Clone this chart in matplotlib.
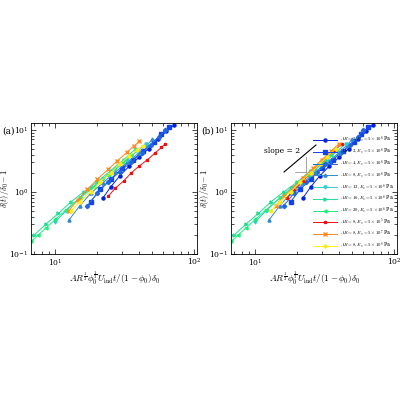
import matplotlib
matplotlib.use("Agg")
import matplotlib.pyplot as plt

plt.rcParams['font.family'] = 'DejaVu Serif'
plt.rcParams['mathtext.fontset'] = 'cm'

labels = ["$AR=1, E_s=5\\times10^6$ Pa", "$AR=2, E_s=5\\times10^6$ Pa", "$AR=4, E_s=5\\times10^6$ Pa",
          "$AR=8, E_s=5\\times10^6$ Pa", "$AR=12, E_s=5\\times10^6$ Pa", "$AR=16, E_s=5\\times10^6$ Pa",
          "$AR=20, E_s=5\\times10^6$ Pa", "$AR=8, E_s=5\\times10^5$ Pa", "$AR=8, E_s=5\\times10^7$ Pa",
          "$AR=8, E_s=5\\times10^8$ Pa"]
colors = ["#0022dd", "#1144ee", "#2266dd", "#3388cc", "#33cccc", "#22dd99", "#22ee77", "#ee1111", "#ff8822", "#ffee11"]
markers = ["o", "s", "D", "^", "v", ">", "<", "*", "x", "P"]

# panel (b) collapsed data
xb = [
    [22, 25, 29, 34, 40, 47, 55, 63, 70],
    [18, 21, 25, 30, 36, 43, 51, 58, 65],
    [16, 19, 23, 28, 34, 41, 48, 55, 60],
    [12.5, 15, 18, 22, 27, 33, 40, 46, 50],
    [10, 12, 15, 18, 22, 27, 33, 39, 45],
    [7, 8.5, 10.5, 13, 16, 20, 25, 31, 38],
    [6.7, 7.5, 8.5, 10, 12, 15, 19, 24, 30, 35],
    [17, 19, 22, 25, 29, 33, 37, 42],
    [14, 16, 19, 22, 26, 30, 35, 40],
    [13, 15, 18, 21, 25, 29, 33, 38],
]
yb = [
    [0.8, 1.2, 1.8, 2.6, 3.6, 5.0, 7.0, 9.5, 12],
    [0.7, 1.1, 1.6, 2.4, 3.3, 4.6, 6.4, 8.6, 11],
    [0.6, 0.95, 1.45, 2.1, 3.0, 4.2, 5.8, 7.8, 10],
    [0.35, 0.6, 0.95, 1.4, 2.1, 3.0, 4.3, 5.8, 7],
    [0.33, 0.5, 0.8, 1.15, 1.6, 2.3, 3.3, 4.6, 6],
    [0.2, 0.3, 0.45, 0.7, 1.0, 1.45, 2.2, 3.3, 5],
    [0.16, 0.2, 0.26, 0.36, 0.52, 0.8, 1.2, 1.9, 3.0, 4],
    [0.8, 1.1, 1.5, 2.0, 2.8, 3.7, 4.6, 6],
    [0.6, 0.85, 1.2, 1.7, 2.4, 3.3, 4.5, 6],
    [0.5, 0.7, 1.0, 1.45, 2.0, 2.8, 3.7, 5],
]
# panel (a) raw scaling
xa = [
    [22, 25, 29, 34, 40, 47, 55, 63, 72],
    [18, 21, 25, 30, 36, 43, 51, 58, 66],
    [17, 20, 24, 29, 35, 42, 49, 56, 62],
    [12.5, 15, 18, 22, 27, 33, 40, 46, 50],
    [10, 12, 15, 18, 22, 27, 33, 39, 45],
    [7, 8.5, 10.5, 13, 16, 20, 25, 31, 38],
    [6.7, 7.5, 8.5, 10, 12, 15, 19, 24, 30, 35],
    [24, 27, 31, 35, 40, 46, 52, 58, 62],
    [12.5, 14.5, 17, 20, 24, 28, 33, 37, 40],
    [13, 15, 18, 21, 25, 29, 34, 39, 43],
]
ya = [
    [0.8, 1.2, 1.8, 2.6, 3.6, 5.0, 7.0, 9.5, 12],
    [0.7, 1.1, 1.6, 2.4, 3.3, 4.6, 6.4, 8.6, 11],
    [0.6, 0.95, 1.45, 2.1, 3.0, 4.2, 5.8, 7.8, 10],
    [0.35, 0.6, 0.95, 1.4, 2.1, 3.0, 4.3, 5.8, 7],
    [0.33, 0.5, 0.8, 1.15, 1.6, 2.3, 3.3, 4.6, 6],
    [0.2, 0.3, 0.45, 0.7, 1.0, 1.45, 2.2, 3.3, 5],
    [0.16, 0.2, 0.26, 0.36, 0.52, 0.8, 1.2, 1.9, 3.0, 4],
    [0.85, 1.15, 1.5, 2.0, 2.6, 3.3, 4.2, 5.2, 6],
    [0.5, 0.75, 1.1, 1.6, 2.3, 3.2, 4.4, 5.6, 6.5],
    [0.5, 0.7, 1.0, 1.45, 2.0, 2.8, 3.8, 4.8, 5.6],
]

fig = plt.figure(figsize=(4, 4), dpi=100)
axa = fig.add_axes([0.078, 0.365, 0.415, 0.328])
axb = fig.add_axes([0.578, 0.365, 0.415, 0.328])
for ax, X, Y, tag in [(axa, xa, ya, "(a)"), (axb, xb, yb, "(b)")]:
    for i in range(len(labels)):
        ax.plot(X[i], Y[i], color=colors[i], marker=markers[i], ms=2.2, lw=0.7, label=labels[i])
    ax.set_xscale('log'); ax.set_yscale('log')
    ax.set_xlim(6.7, 105); ax.set_ylim(0.1, 13)
    ax.tick_params(which='both', direction='in', top=True, right=True, labelsize=5.5, width=0.5, pad=2)
    ax.set_xlabel(r"$AR^{\frac{1}{3}}\phi_0^{\frac{1}{3}}U_{\rm ind}t/(1-\phi_0)\delta_0$", fontsize=6.5, labelpad=1)
    ax.set_ylabel(r"$\delta(t)/\delta_0-1$", fontsize=6, labelpad=-1)
    ax.text(-0.1, 0.97, tag, transform=ax.transAxes, ha='right', va='top', fontsize=6.5)
    for s in ax.spines.values():
        s.set_linewidth(0.6)

# slope triangle
axb.plot([16.1, 27.3], [2.1, 5.7], color='black', lw=0.8)
axb.plot([19.3, 23], [2.1, 2.1], color='gray', lw=0.5)
axb.plot([23, 23], [2.1, 3.7], color='gray', lw=0.5)
axb.text(11.5, 4.2, "slope = 2", fontsize=5.5)
axb.legend(loc='lower right', fontsize=3.4, frameon=False, handlelength=5, labelspacing=0.3, borderaxespad=0.2)

fig.savefig("out.png", dpi=100)
